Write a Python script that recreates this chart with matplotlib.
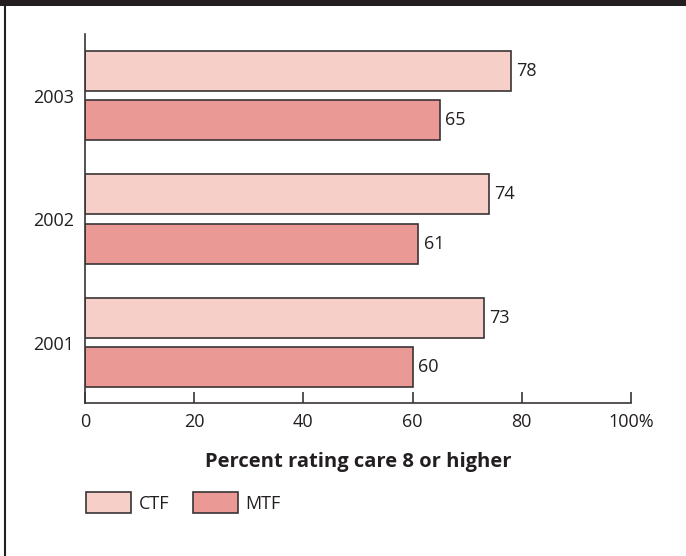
import numpy as np
import matplotlib.pyplot as plt
from matplotlib.patches import Rectangle, Patch
from matplotlib.lines import Line2D

years = ['2001', '2002', '2003']
ctf = [73, 74, 78]
mtf = [60, 61, 65]
xticks = [0, 20, 40, 60, 80, 100]
xticklabels = ['0', '20', '40', '60', '80', '100%']

ctf_color = '#F6CFC9'
mtf_color = '#EA9994'
edge = '#3a3436'
txt = '#231f20'

plt.rcParams['font.family'] = ['Open Sans', 'DejaVu Sans']

W, H = 686, 556
fig = plt.figure(figsize=(W / 100, H / 100), dpi=100)
ax = fig.add_axes([85 / W, (H - 403) / H, (631 - 85) / W, (403 - 34) / H])

y = np.arange(len(years))
h = 0.325
off = 0.2
ax.barh(y + off, ctf, height=h, color=ctf_color, edgecolor=edge, linewidth=1.2)
ax.barh(y - off, mtf, height=h, color=mtf_color, edgecolor=edge, linewidth=1.2)

for yi, v in zip(y + off, ctf):
    ax.annotate(str(v), (v, yi), xytext=(4, 0), textcoords='offset points',
                va='center', ha='left', fontsize=13, color=txt)
for yi, v in zip(y - off, mtf):
    ax.annotate(str(v), (v, yi), xytext=(4, 0), textcoords='offset points',
                va='center', ha='left', fontsize=13, color=txt)

ax.set_xlim(0, 100)
ax.set_ylim(-0.49, 2.5)
ax.set_xticks(xticks)
ax.set_xticklabels(xticklabels, fontsize=13, color=txt)
ax.set_yticks(y)
ax.set_yticklabels(years, fontsize=13, color=txt)
ax.tick_params(axis='x', direction='in', length=8, width=1.2, color=edge, pad=7)
ax.tick_params(axis='y', length=0, pad=8)
for s in ['top', 'right']:
    ax.spines[s].set_visible(False)
for s in ['left', 'bottom']:
    ax.spines[s].set_color(edge)
    ax.spines[s].set_linewidth(1.2)

ax.set_xlabel('Percent rating care 8 or higher', fontsize=14.5, fontweight='bold',
              color=txt, labelpad=15)

handles = [Patch(facecolor=ctf_color, edgecolor=edge, linewidth=1.2, label='CTF'),
           Patch(facecolor=mtf_color, edgecolor=edge, linewidth=1.2, label='MTF')]
fig.legend(handles=handles, loc='upper left', bbox_to_anchor=(70 / W, 1 - 476 / H),
           ncol=2, frameon=False, fontsize=13, handlelength=2.5, handleheight=1.4,
           handletextpad=0.4, columnspacing=1.3, labelcolor=txt)

# frame: dark top band and left rule
fig.add_artist(Rectangle((0, 1 - 6 / H), 1, 6 / H, transform=fig.transFigure,
                         facecolor='#231f20', edgecolor='none'))
fig.add_artist(Line2D([4.5 / W, 4.5 / W], [0, 1], transform=fig.transFigure,
                      color='#231f20', linewidth=1.5))

fig.savefig('out.png', dpi=100)
